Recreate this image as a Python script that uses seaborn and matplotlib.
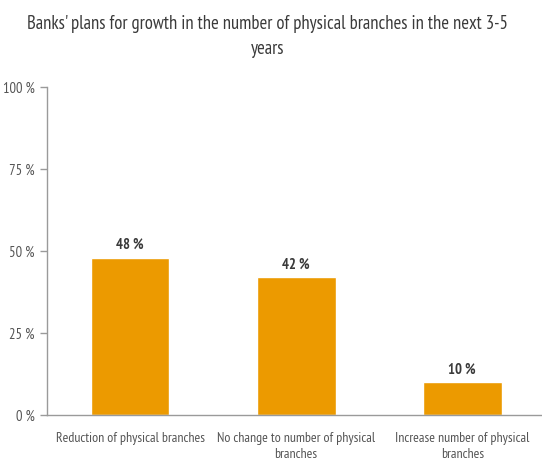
import textwrap
import matplotlib
matplotlib.use("Agg")
import matplotlib.pyplot as plt
import seaborn as sns
import pandas as pd

categories = ["Reduction of physical branches",
              "No change to number of physical branches",
              "Increase number of physical branches"]
values = [48, 42, 10]
y_ticks = [0, 25, 50, 75, 100]
title = "Banks' plans for growth in the number of physical branches in the next 3-5 years"

sns.set_theme(style="white")
plt.rcParams["font.family"] = ["PT Sans Narrow", "DejaVu Sans"]

df = pd.DataFrame({"category": categories, "value": values})

fig = plt.figure(figsize=(5.42, 4.69), dpi=100)
ax = fig.add_axes([0.0867, 0.1151, 0.9133, 0.6994])

sns.barplot(data=df, x="category", y="value", color="#EC9A00",
            saturation=1, width=0.475, ax=ax)

for i, v in enumerate(values):
    ax.text(i, v + 1.8, f"{v} %", ha="center", va="bottom",
            fontsize=10.5, fontweight="bold", color="#3a3a3a")

ax.set_ylim(0, 100)
ax.set_xlim(-0.5, 2.48)
ax.set_yticks(y_ticks)
ax.set_yticklabels([f"{t} %" for t in y_ticks], fontsize=10.5, color="#555555")
ax.set_xticks(range(len(categories)))
ax.set_xticklabels([textwrap.fill(c, 31) for c in categories],
                   fontsize=10, color="#555555", linespacing=1.35)
ax.set_xlabel("")
ax.set_ylabel("")

for side in ["top", "right"]:
    ax.spines[side].set_visible(False)
for side in ["left", "bottom"]:
    ax.spines[side].set_color("#9a9a9a")
    ax.spines[side].set_linewidth(1.0)

ax.tick_params(axis="y", left=True, length=5, width=1, color="#9a9a9a", pad=4)
ax.tick_params(axis="x", bottom=False, pad=6)

fig.text(0.494, 0.967, textwrap.fill(title, 75), ha="center", va="top",
         fontsize=13.4, color="#3a3a3a", linespacing=1.45)

fig.savefig("out.png", dpi=100)
